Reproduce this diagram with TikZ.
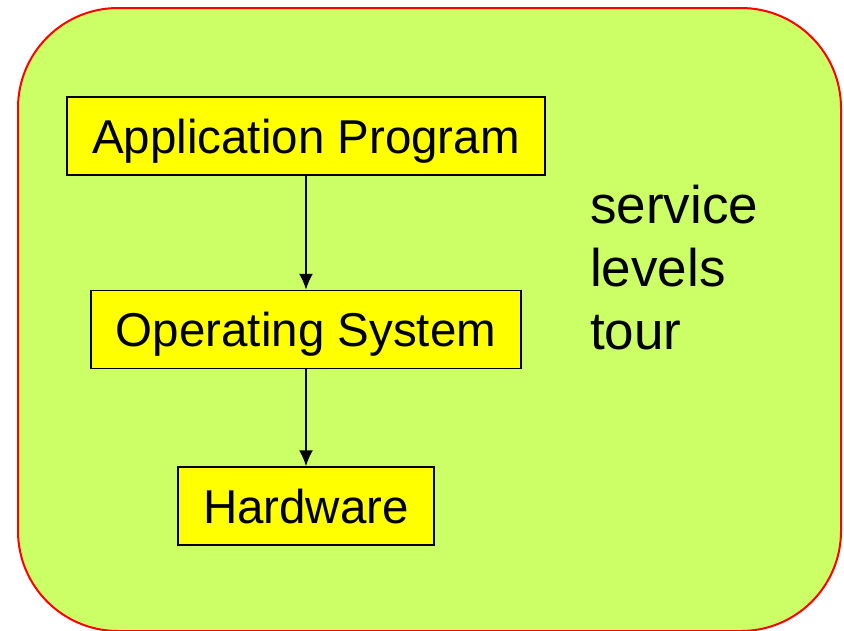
\documentclass[tikz,border=0pt]{standalone}
\usepackage{fontspec}
\setmainfont{Liberation Sans}
\usetikzlibrary{positioning,arrows.meta}

\definecolor{hintergrund}{HTML}{CCFF66}
\definecolor{rahmen}{HTML}{FF0000}
\definecolor{kasten}{HTML}{FFFF00}

\tikzset{
  ebene/.style={draw=black, line width=1.5pt, fill=kasten, inner xsep=25pt,
    minimum height=78pt, text depth=0pt, font=\fontsize{47.5}{56}\selectfont},
  pfeil/.style={-{Latex[length=16pt,width=14pt]}, line width=1.6pt}
}

\begin{document}
\begin{tikzpicture}[x=1pt, y=-1pt]

        % Rahmen des Bildes
        \useasboundingbox (0,0) rectangle (844,630);
        \fill[white] (0,0) rectangle (844,630);

        % Hintergrund
        \draw[rahmen, line width=2pt, fill=hintergrund, rounded corners=100pt]
          (18,8) rectangle (841,631);

        % Ebenen
        \node[ebene] (anwendung) at (306,136) {Application Program};
        \node[ebene, below=114pt of anwendung] (betriebssystem) {Operating System};
        \node[ebene, below=97pt of betriebssystem] (hardware) {Hardware};

        % Pfeile zwischen den Ebenen
        \draw[pfeil] (anwendung) -- (betriebssystem);
        \draw[pfeil] (betriebssystem) -- (hardware);

        % Beschriftung rechts
        \node[anchor=west, align=left, inner sep=0pt,
          font=\fontsize{53}{63}\selectfont] (ebenen) at (590,268)
          {service\\levels\\tour};

\end{tikzpicture}
\end{document}
